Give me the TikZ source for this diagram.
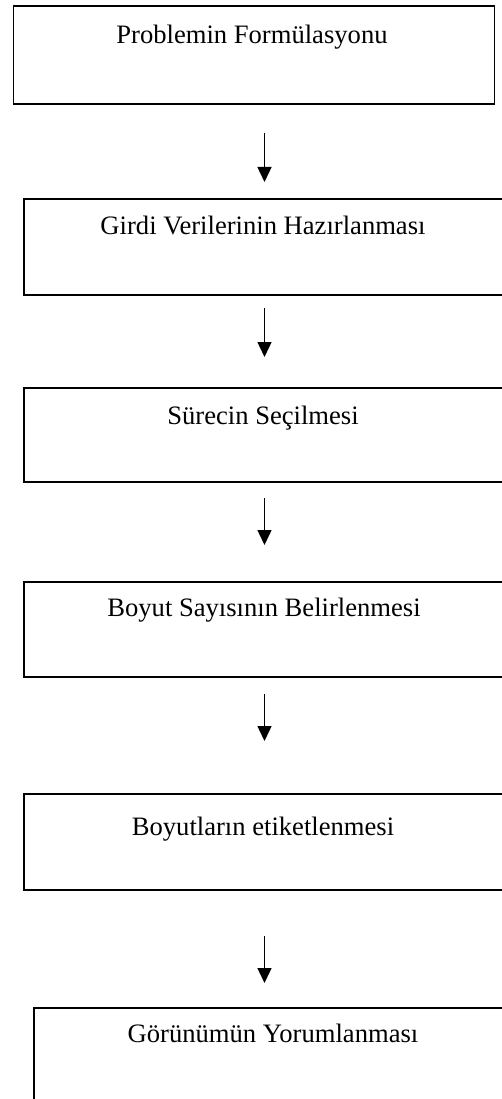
\documentclass[tikz,border=0pt]{standalone}
\usepackage{fontspec}
\setmainfont{Liberation Serif}
\usetikzlibrary{arrows.meta}
\begin{document}
\begin{tikzpicture}[x=1pt,y=-1pt,
  stepbox/.style={draw=black, line width=1.9pt, rectangle, inner sep=0pt, anchor=north west},
  steplabel/.style={anchor=base, inner sep=0pt, font=\fontsize{26.6}{32}\selectfont},
  flow/.style={line width=1.4pt, -{Triangle[length=15pt,width=14pt]}}]
  \useasboundingbox (0,0) rectangle (501,1099);
  % process boxes
  \node[stepbox, minimum width=481pt, minimum height=98pt] (b1) at (12.5,5) {};
  \node[stepbox, minimum width=490pt, minimum height=96pt] (b2) at (22.7,198) {};
  \node[stepbox, minimum width=490pt, minimum height=94pt] (b3) at (22.7,387) {};
  \node[stepbox, minimum width=490pt, minimum height=95pt] (b4) at (22.7,581) {};
  \node[stepbox, minimum width=490pt, minimum height=96pt] (b5) at (22.7,793) {};
  \node[stepbox, minimum width=480pt, minimum height=120pt] (b6) at (33,1007) {};
  % box titles
  \node[steplabel] (t1) at (252,44) {Problemin Formülasyonu};
  \node[steplabel] (t2) at (263,234) {Girdi Verilerinin Hazırlanması};
  \node[steplabel] (t3) at (263,424) {Sürecin Seçilmesi};
  \node[steplabel] (t4) at (264,616) {Boyut Sayısının Belirlenmesi};
  \node[steplabel] (t5) at (263,835) {Boyutların etiketlenmesi};
  \node[steplabel] (t6) at (273,1042) {Görünümün Yorumlanması};
  % arrow end points
  \coordinate (a1s) at (264.5,133); \coordinate (a1e) at (264.5,182);
  \coordinate (a2s) at (264.5,308); \coordinate (a2e) at (264.5,357);
  \coordinate (a3s) at (264.5,498); \coordinate (a3e) at (264.5,545);
  \coordinate (a4s) at (264.5,694); \coordinate (a4e) at (264.5,741);
  \coordinate (a5s) at (264.5,936); \coordinate (a5e) at (264.5,983);
  \draw[flow] (a1s) -- (a1e);
  \draw[flow] (a2s) -- (a2e);
  \draw[flow] (a3s) -- (a3e);
  \draw[flow] (a4s) -- (a4e);
  \draw[flow] (a5s) -- (a5e);
\end{tikzpicture}
\end{document}
